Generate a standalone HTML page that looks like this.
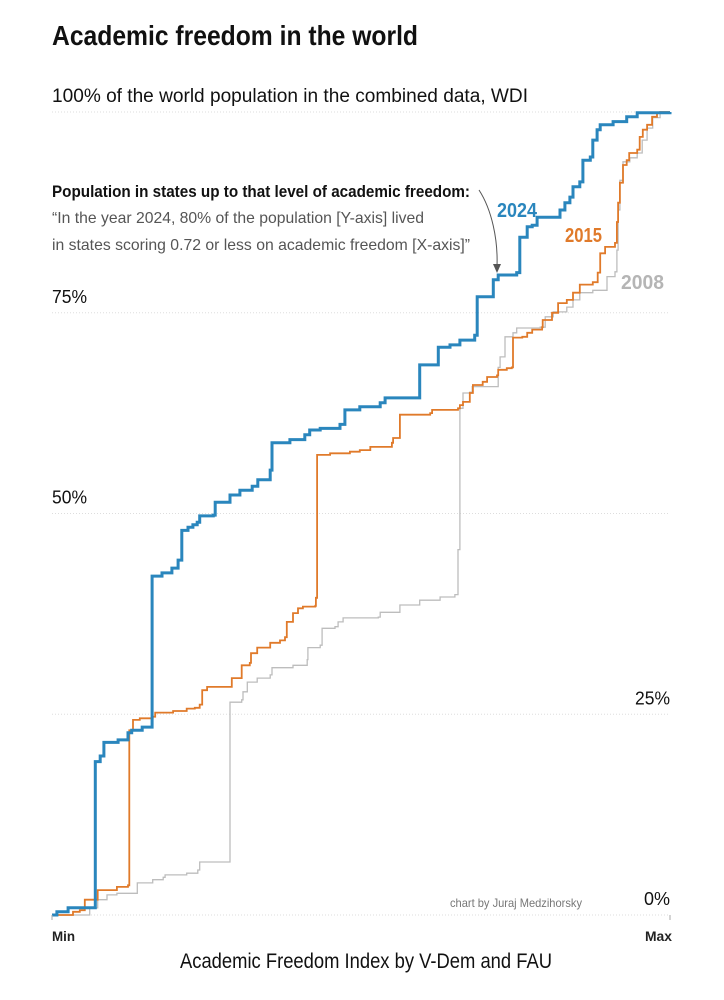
<!DOCTYPE html>
<html><head><meta charset="utf-8">
<style>
body{margin:0;background:#fff;}
svg{display:block;font-family:"Liberation Sans Narrow","Liberation Sans",sans-serif;}
</style></head>
<body>
<svg id="chart" width="724" height="1000" viewBox="0 0 724 1000" xmlns="http://www.w3.org/2000/svg">
<text x="52" y="45" font-size="28" font-weight="bold" fill="#111" textLength="366" lengthAdjust="spacingAndGlyphs">Academic freedom in the world</text>
<g id="grid"></g>
<g id="ylabels"></g>
<text x="52" y="197" font-size="17" font-weight="bold" fill="#111" textLength="418" lengthAdjust="spacingAndGlyphs">Population in states up to that level of academic freedom:</text>
<text x="52" y="223" font-size="16" fill="#555" textLength="372" lengthAdjust="spacingAndGlyphs">“In the year 2024, 80% of the population [Y-axis] lived</text>
<text x="52" y="250" font-size="16" fill="#555" textLength="418" lengthAdjust="spacingAndGlyphs">in states scoring 0.72 or less on academic freedom [X-axis]”</text>
<path d="M479,190 C492,210 498,240 497,266" fill="none" stroke="#555" stroke-width="1"/>
<path d="M493,264 L497,273 L501,264 Z" fill="#555"/>
<g id="lines"></g>
<text x="497" y="217" font-size="20" font-weight="bold" fill="#2a86bd" textLength="40" lengthAdjust="spacingAndGlyphs">2024</text>
<text x="565" y="242" font-size="20" font-weight="bold" fill="#e07a2a" textLength="37" lengthAdjust="spacingAndGlyphs">2015</text>
<text x="621" y="289" font-size="20" font-weight="bold" fill="#b5b5b5" textLength="43" lengthAdjust="spacingAndGlyphs">2008</text>
<text x="450" y="907" font-size="12" fill="#777" textLength="132" lengthAdjust="spacingAndGlyphs">chart by Juraj Medzihorsky</text>
<line x1="52" y1="915" x2="52" y2="920" stroke="#aaa"/>
<line x1="670" y1="915" x2="670" y2="920" stroke="#aaa"/>
<text x="52" y="941" font-size="14" font-weight="bold" fill="#222" textLength="23" lengthAdjust="spacingAndGlyphs">Min</text>
<text x="645" y="941" font-size="14" font-weight="bold" fill="#222" textLength="27" lengthAdjust="spacingAndGlyphs">Max</text>
<text x="180" y="968" font-size="21" fill="#111" textLength="372" lengthAdjust="spacingAndGlyphs">Academic Freedom Index by V-Dem and FAU</text>
</svg>
<script>
const yTicks=[0,25,50,75,100];
const yTickLabels=["0%","25%","50%","75%","100% of the world population in the combined data, WDI"];
const x2024=[0,.008,.026,.070,.070,.078,.084,.107,.123,.129,.146,.162,.162,.178,.194,.204,.210,.220,.228,.235,.239,.261,.264,.280,.288,.304,.324,.333,.353,.356,.385,.409,.417,.434,.466,.474,.498,.531,.539,.592,.595,.623,.625,.644,.660,.684,.688,.712,.714,.722,.752,.757,.769,.777,.785,.811,.822,.830,.838,.843,.854,.859,.871,.875,.882,.887,.908,.930,.947,.979,1];
const y2024=[0,.4,.9,1.2,19.1,19.8,21.5,21.8,22.7,23.0,23.4,24.7,42.2,42.6,43.2,44.2,47.9,48.3,48.6,48.9,49.7,49.8,51.4,51.4,52.3,52.9,53.4,54.2,55.4,58.8,59.2,59.8,60.4,60.6,61.1,62.9,63.3,63.8,64.4,64.4,68.5,68.5,70.7,71.0,71.6,72.2,77.0,77.0,79.1,79.7,80.0,84.4,85.7,85.9,86.9,86.9,87.8,88.7,89.4,90.7,91.3,94.0,94.4,96.5,97.8,98.4,98.8,99.4,99.9,99.9,100];
const x2015=[0,.013,.034,.045,.053,.070,.074,.105,.123,.125,.131,.142,.163,.167,.196,.218,.231,.239,.243,.251,.288,.291,.304,.307,.320,.322,.332,.350,.353,.369,.377,.380,.390,.398,.406,.426,.427,.429,.450,.482,.498,.515,.550,.552,.563,.563,.612,.615,.657,.660,.665,.676,.681,.697,.704,.720,.722,.736,.744,.746,.761,.769,.777,.793,.794,.809,.819,.833,.843,.854,.875,.883,.887,.895,.911,.914,.916,.919,.924,.930,.934,.947,.951,.956,.963,.971,.979,.984,1];
const y2015=[0,0,.4,.6,1.9,1.9,3.1,3.5,3.7,23.0,24.3,24.5,24.7,25.2,25.4,25.7,25.8,26.2,28.0,28.4,28.4,29.5,29.5,31.1,31.4,32.6,33.3,33.3,33.9,34.2,34.6,36.5,37.6,38.2,38.4,38.5,39.5,57.3,57.5,57.7,57.9,58.3,58.8,59.4,59.4,62.3,62.5,62.9,63.1,63.5,63.9,65.0,66.0,66.4,67.0,67.2,67.9,68.1,68.2,71.9,72.0,72.5,72.9,73.2,74.1,75.0,76.2,76.6,77.5,78.5,78.8,80.0,82.4,83.2,83.7,86.3,88.7,91.2,93.4,94.0,94.9,95.3,96.9,97.8,98.4,99.4,99.9,100,100];
const x2008=[0,.013,.061,.074,.089,.105,.138,.138,.163,.180,.183,.218,.236,.239,.288,.288,.307,.309,.316,.332,.353,.356,.390,.413,.414,.434,.437,.458,.463,.471,.528,.531,.563,.595,.628,.652,.657,.660,.665,.676,.680,.722,.722,.725,.733,.746,.752,.790,.798,.811,.833,.843,.854,.875,.898,.898,.911,.914,.916,.919,.924,.935,.947,.955,.963,.972,.984,1];
const y2008=[0,0,.9,1.9,2.5,2.7,2.9,4.0,4.4,4.7,5.0,5.2,5.6,6.6,6.8,26.5,26.8,27.8,29.0,29.5,29.9,30.8,31.1,31.8,33.3,33.6,35.7,35.9,36.5,37.0,37.1,37.7,38.6,39.2,39.6,39.9,45.5,63.1,65.0,65.1,65.8,66.0,68.2,69.5,72.0,72.5,73.1,73.2,74.5,75.1,75.7,76.6,77.5,77.8,78.5,79.5,80.1,82.8,87.8,91.5,93.8,94.3,94.9,96.5,98.0,99.3,100,100];

const NS="http://www.w3.org/2000/svg";
const X0=52,X1=670,Y0=915,Y1=112;
function sx(v){return X0+v*(X1-X0);}
function sy(v){return Y0-v/100*(Y0-Y1);}
const grid=document.getElementById('grid');
const yl=document.getElementById('ylabels');
yTicks.forEach((t,i)=>{
  const l=document.createElementNS(NS,'line');
  
  
  l.setAttribute('x1',X0);l.setAttribute('x2',X1);
  l.setAttribute('y1',sy(t));l.setAttribute('y2',sy(t));
  l.setAttribute('stroke','#ddd');l.setAttribute('stroke-dasharray','1,2');
  grid.appendChild(l);
  const tx=document.createElementNS(NS,'text');
  
  
  tx.setAttribute('font-size',i===4?'19':'18');
  tx.setAttribute('fill','#111');
  tx.setAttribute('lengthAdjust','spacingAndGlyphs');
  if(i===4) tx.setAttribute('textLength','476');
  else tx.setAttribute('textLength', t===0?'26':'35');
  if(t===0||t===25){tx.setAttribute('x',X1-(t===0?26:35));}
  else tx.setAttribute('x',X0);
  tx.setAttribute('y',sy(t)-10);
  tx.textContent=yTickLabels[i];
  yl.appendChild(tx);
});
const lines=document.getElementById('lines');
function draw(xs,ys,color,w,name){
  let d='M'+sx(xs[0]).toFixed(1)+','+sy(ys[0]).toFixed(1);
  for(let i=1;i<xs.length;i++){d+=' H'+sx(xs[i]).toFixed(1)+' V'+sy(ys[i]).toFixed(1);}
  const p=document.createElementNS(NS,'path');
  
  
  p.setAttribute('d',d);p.setAttribute('fill','none');
  p.setAttribute('stroke',color);p.setAttribute('stroke-width',w);
  lines.appendChild(p);
}
draw(x2008,y2008,'#bdbdbd',1.3,'line-2008');
draw(x2015,y2015,'#e07a2a',1.8,'line-2015');
draw(x2024,y2024,'#2a86bd',3,'line-2024');
</script>
</body></html>
